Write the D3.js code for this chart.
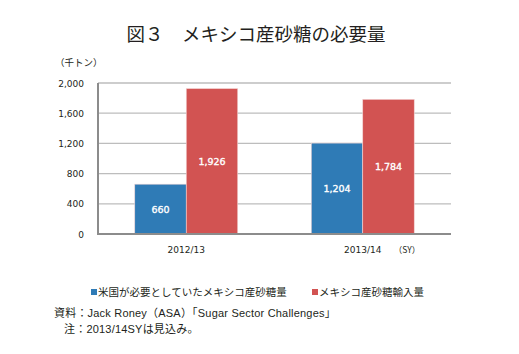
<!DOCTYPE html>
<html>
<head>
<meta charset="utf-8">
<script src="https://cdnjs.cloudflare.com/ajax/libs/d3/7.8.5/d3.min.js"></script>
<style>
  body { margin: 0; background: #fff; }
  svg { display: block; }
</style>
</head>
<body>
<div id="chart"></div>
<script>
// データ
const categories = ['2012/13', '2013/14'];
const seriesNames = ['米国が必要としていたメキシコ産砂糖量', 'メキシコ産砂糖輸入量'];
const needed   = [660, 1204];
const imported = [1926, 1784];
const yTicks = [0, 400, 800, 1200, 1600, 2000];

const W = 519, H = 354;
const colors = ['#2f7bb6', '#d25352'];
const jp = '"Noto Sans CJK JP", "Noto Sans", sans-serif';
const latinJp = '"Liberation Sans", "Noto Sans CJK JP", sans-serif';

const svg = d3.select('#chart').append('svg')
    .attr('width', W).attr('height', H)
    .attr('viewBox', `0 0 ${W} ${H}`);

const m = { left: 98, right: 451, top: 83, bottom: 234 };

const x = d3.scaleBand().domain(categories).range([m.left, m.right]).paddingInner(0).paddingOuter(0);
const xSub = d3.scaleBand().domain([0, 1]).range([0, x.bandwidth()]).paddingInner(0).paddingOuter(0.714);
const y = d3.scaleLinear().domain([0, 2000]).range([m.bottom, m.top]);

// タイトル
svg.append('text')
    .attr('x', 256).attr('y', 41)
    .attr('text-anchor', 'middle')
    .attr('font-family', jp).attr('font-size', 18.5).attr('fill', '#231f20')
    .text('図３　メキシコ産砂糖の必要量');

svg.append('text')
    .attr('x', 55).attr('y', 66)
    .attr('font-family', jp).attr('font-size', 9.5).attr('fill', '#231f20')
    .text('（千トン）');

// グリッド線
svg.append('g').selectAll('line')
    .data(yTicks.filter(d => d > 0))
    .join('line')
    .attr('x1', m.left).attr('x2', m.right)
    .attr('y1', d => y(d)).attr('y2', d => y(d))
    .attr('stroke', '#bdbdbd').attr('stroke-width', 1.3);

// y軸ラベル
svg.append('g').selectAll('text')
    .data(yTicks)
    .join('text')
    .attr('x', 84).attr('y', d => y(d) + 3.5)
    .attr('text-anchor', 'end')
    .attr('font-family', '"DejaVu Sans", sans-serif').attr('font-size', 9).attr('fill', '#231f20')
    .text(d => d3.format(',')(d));

// 棒
const series = [needed, imported];
const groups = svg.append('g').selectAll('g')
    .data(categories)
    .join('g')
    .attr('transform', d => `translate(${x(d)},0)`);

groups.selectAll('rect')
    .data((d, i) => series.map((s, k) => ({ k, v: s[i] })))
    .join('rect')
    .attr('x', d => xSub(d.k))
    .attr('width', xSub.bandwidth())
    .attr('y', d => y(d.v))
    .attr('height', d => y(0) - y(d.v))
    .attr('fill', d => colors[d.k])
    .attr('stroke', '#f3d6d6').attr('stroke-width', 0.6);

groups.selectAll('text')
    .data((d, i) => series.map((s, k) => ({ k, v: s[i] })))
    .join('text')
    .attr('x', d => xSub(d.k) + xSub.bandwidth() / 2)
    .attr('y', d => (y(d.v) + y(0)) / 2 + 3.5)
    .attr('text-anchor', 'middle')
    .attr('font-family', '"DejaVu Sans", sans-serif').attr('font-size', 9.5)
    .attr('fill', '#fff').attr('stroke', '#fff').attr('stroke-width', 0.35)
    .text(d => d3.format(',')(d.v));

// 軸線
svg.append('line')
    .attr('x1', m.left).attr('x2', m.left)
    .attr('y1', m.top).attr('y2', m.bottom)
    .attr('stroke', '#8c8c8c').attr('stroke-width', 2);
svg.append('line')
    .attr('x1', m.left - 1).attr('x2', m.right)
    .attr('y1', m.bottom).attr('y2', m.bottom)
    .attr('stroke', '#8c8c8c').attr('stroke-width', 2);

// カテゴリラベル
svg.append('g').selectAll('text')
    .data(categories)
    .join('text')
    .attr('x', d => x(d) + x.bandwidth() / 2).attr('y', 253)
    .attr('text-anchor', 'middle')
    .attr('font-family', '"DejaVu Sans", sans-serif').attr('font-size', 9).attr('fill', '#231f20')
    .text(d => d);

svg.append('text')
    .attr('x', 407).attr('y', 253)
    .attr('text-anchor', 'middle')
    .attr('font-family', jp).attr('font-size', 8.5).attr('fill', '#231f20')
    .text('（SY）');

// 凡例
const legendX = [91, 312];
const legend = svg.append('g').selectAll('g')
    .data(seriesNames)
    .join('g')
    .attr('transform', (d, i) => `translate(${legendX[i]},294)`);
legend.append('rect')
    .attr('x', 0).attr('y', -5).attr('width', 6).attr('height', 6)
    .attr('fill', (d, i) => colors[i]);
legend.append('text')
    .attr('x', 7).attr('y', 1)
    .attr('dominant-baseline', 'middle').attr('dy', '-0.15em')
    .attr('font-family', jp).attr('font-size', 10.5).attr('fill', '#231f20')
    .text(d => d);

// 資料・注
svg.append('text')
    .attr('x', 54).attr('y', 317)
    .attr('font-family', latinJp).attr('font-size', 11).attr('fill', '#231f20')
    .attr('letter-spacing', 0.2)
    .text('資料：Jack Roney（ASA）「Sugar Sector Challenges」');
svg.append('text')
    .attr('x', 64).attr('y', 333)
    .attr('font-family', latinJp).attr('font-size', 11).attr('fill', '#231f20')
    .attr('letter-spacing', 0.2)
    .text('注：2013/14SYは見込み。');
</script>
</body>
</html>
